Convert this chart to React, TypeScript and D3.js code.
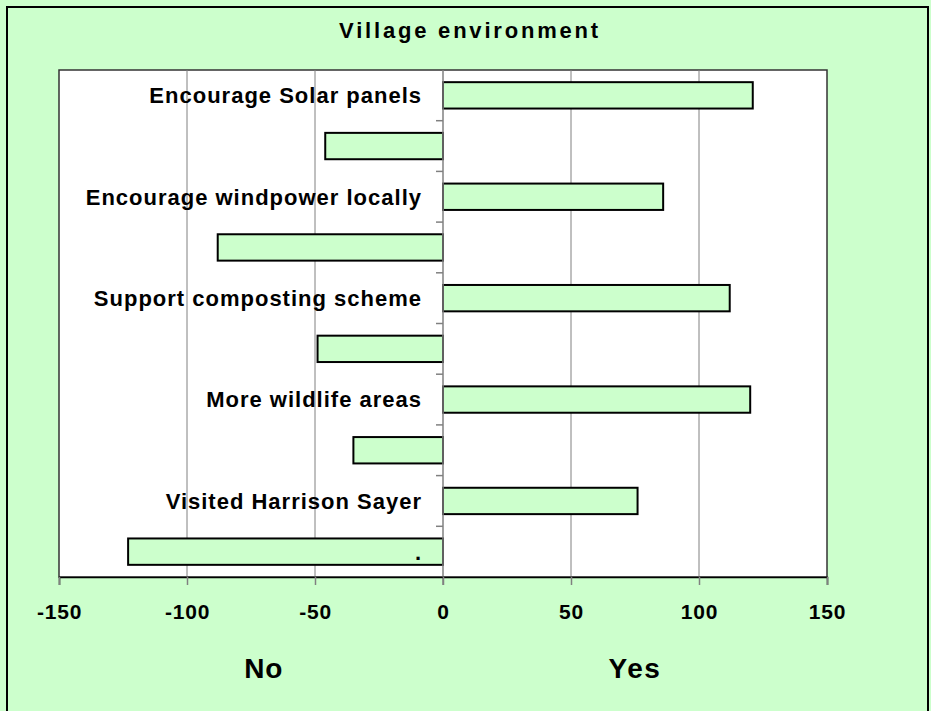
import { useEffect, useRef } from "react";
import * as d3 from "d3";

// chart data
const categories = [
  "Encourage Solar panels",
  "",
  "Encourage windpower locally",
  " ",
  "Support composting scheme",
  "  ",
  "More wildlife areas",
  "   ",
  "Visited Harrison Sayer",
  ".",
];
const values = [121, -46, 86, -88, 112, -49, 120, -35, 76, -123];
const xTicks = [-150, -100, -50, 0, 50, 100, 150];

const App = () => {
  const svgRef = useRef<SVGSVGElement>(null);

  useEffect(() => {
    const width = 931;
    const height = 711;
    const margin = { top: 70, right: 104, bottom: 134, left: 59 };
    const font = "Liberation Sans, Arial, sans-serif";

    const svg = d3.select(svgRef.current);
    svg.selectAll("*").remove();

    // outer chart area
    svg
      .append("rect")
      .attr("x", 0)
      .attr("y", 0)
      .attr("width", width)
      .attr("height", height)
      .attr("fill", "#ccffcc");
    svg
      .append("rect")
      .attr("x", 7)
      .attr("y", 7)
      .attr("width", 921)
      .attr("height", height + 10)
      .attr("fill", "none")
      .attr("stroke", "#000")
      .attr("stroke-width", 2);

    const innerWidth = width - margin.left - margin.right;
    const innerHeight = height - margin.top - margin.bottom;

    const xScale = d3.scaleLinear().domain([-150, 150]).range([0, innerWidth]);
    const yScale = d3
      .scaleBand()
      .domain(categories)
      .range([0, innerHeight])
      .paddingInner(0.48)
      .paddingOuter(0.24);

    const g = svg
      .append("g")
      .attr("transform", `translate(${margin.left}, ${margin.top})`);

    // plot area
    g.append("rect")
      .attr("width", innerWidth)
      .attr("height", innerHeight)
      .attr("fill", "#fff")
      .attr("stroke", "#333")
      .attr("stroke-width", 1.5);

    // grid lines
    g.selectAll(".grid")
      .data(xTicks.filter((t) => t !== 0 && Math.abs(t) !== 150))
      .enter()
      .append("line")
      .attr("x1", (d) => xScale(d))
      .attr("x2", (d) => xScale(d))
      .attr("y1", 0)
      .attr("y2", innerHeight)
      .attr("stroke", "#808080")
      .attr("stroke-width", 1);

    // bars
    g.selectAll(".bar")
      .data(values)
      .enter()
      .append("rect")
      .attr("x", (d) => xScale(Math.min(0, d)))
      .attr("y", (_, i) => yScale(categories[i])!)
      .attr("width", (d) => Math.abs(xScale(d) - xScale(0)))
      .attr("height", yScale.bandwidth())
      .attr("fill", "#ccffcc")
      .attr("stroke", "#000")
      .attr("stroke-width", 2);

    // category labels
    g.selectAll(".cat")
      .data(categories)
      .enter()
      .append("text")
      .attr("x", xScale(0) - 21)
      .attr("y", (d) => yScale(d)! + yScale.bandwidth() / 2)
      .attr("dy", "0.36em")
      .attr("text-anchor", "end")
      .attr("font-family", font)
      .attr("font-weight", "bold")
      .attr("font-size", 22)
      .attr("letter-spacing", 1)
      .text((d) => d.trim());

    // y axis at zero with ticks between categories
    const step = yScale.step();
    const y0 = yScale(categories[0])! - (step * 0.48) / 2;
    g.append("line")
      .attr("x1", xScale(0))
      .attr("x2", xScale(0))
      .attr("y1", 0)
      .attr("y2", innerHeight + 8)
      .attr("stroke", "#808080")
      .attr("stroke-width", 1.5);
    g.selectAll(".ytick")
      .data(d3.range(1, categories.length))
      .enter()
      .append("line")
      .attr("x1", xScale(0) - 7)
      .attr("x2", xScale(0))
      .attr("y1", (d) => y0 + d * step)
      .attr("y2", (d) => y0 + d * step)
      .attr("stroke", "#808080")
      .attr("stroke-width", 1.5);

    // x axis
    const xAxis = d3
      .axisBottom(xScale)
      .tickValues(xTicks)
      .tickFormat((d) => String(d))
      .tickSize(8)
      .tickPadding(19);
    const xg = g
      .append("g")
      .attr("transform", `translate(0, ${innerHeight})`)
      .call(xAxis);
    xg.select(".domain").attr("stroke", "#000").attr("stroke-width", 1.5);
    xg.selectAll(".tick line").attr("stroke", "#808080").attr("stroke-width", 1.5);
    xg.selectAll(".tick text")
      .attr("font-family", font)
      .attr("font-weight", "bold")
      .attr("font-size", 21)
      .attr("letter-spacing", 0.8)
      .attr("fill", "#000");

    // title
    svg
      .append("text")
      .attr("x", 470)
      .attr("y", 38)
      .attr("text-anchor", "middle")
      .attr("font-family", font)
      .attr("font-weight", "bold")
      .attr("font-size", 22)
      .attr("letter-spacing", 2.8)
      .text("Village environment");

    // No / Yes labels
    svg
      .append("text")
      .attr("x", margin.left + xScale(-70))
      .attr("y", 678)
      .attr("text-anchor", "middle")
      .attr("font-family", font)
      .attr("font-weight", "bold")
      .attr("font-size", 28)
      .attr("letter-spacing", 1)
      .text("No");
    svg
      .append("text")
      .attr("x", margin.left + xScale(75))
      .attr("y", 678)
      .attr("text-anchor", "middle")
      .attr("font-family", font)
      .attr("font-weight", "bold")
      .attr("font-size", 28)
      .attr("letter-spacing", 1.5)
      .text("Yes");
  }, []);

  return (
    <div style={{ position: "absolute", left: 0, top: 0 }}>
      <svg ref={svgRef} width={931} height={711} style={{ display: "block" }} />
    </div>
  );
};

export default App;
